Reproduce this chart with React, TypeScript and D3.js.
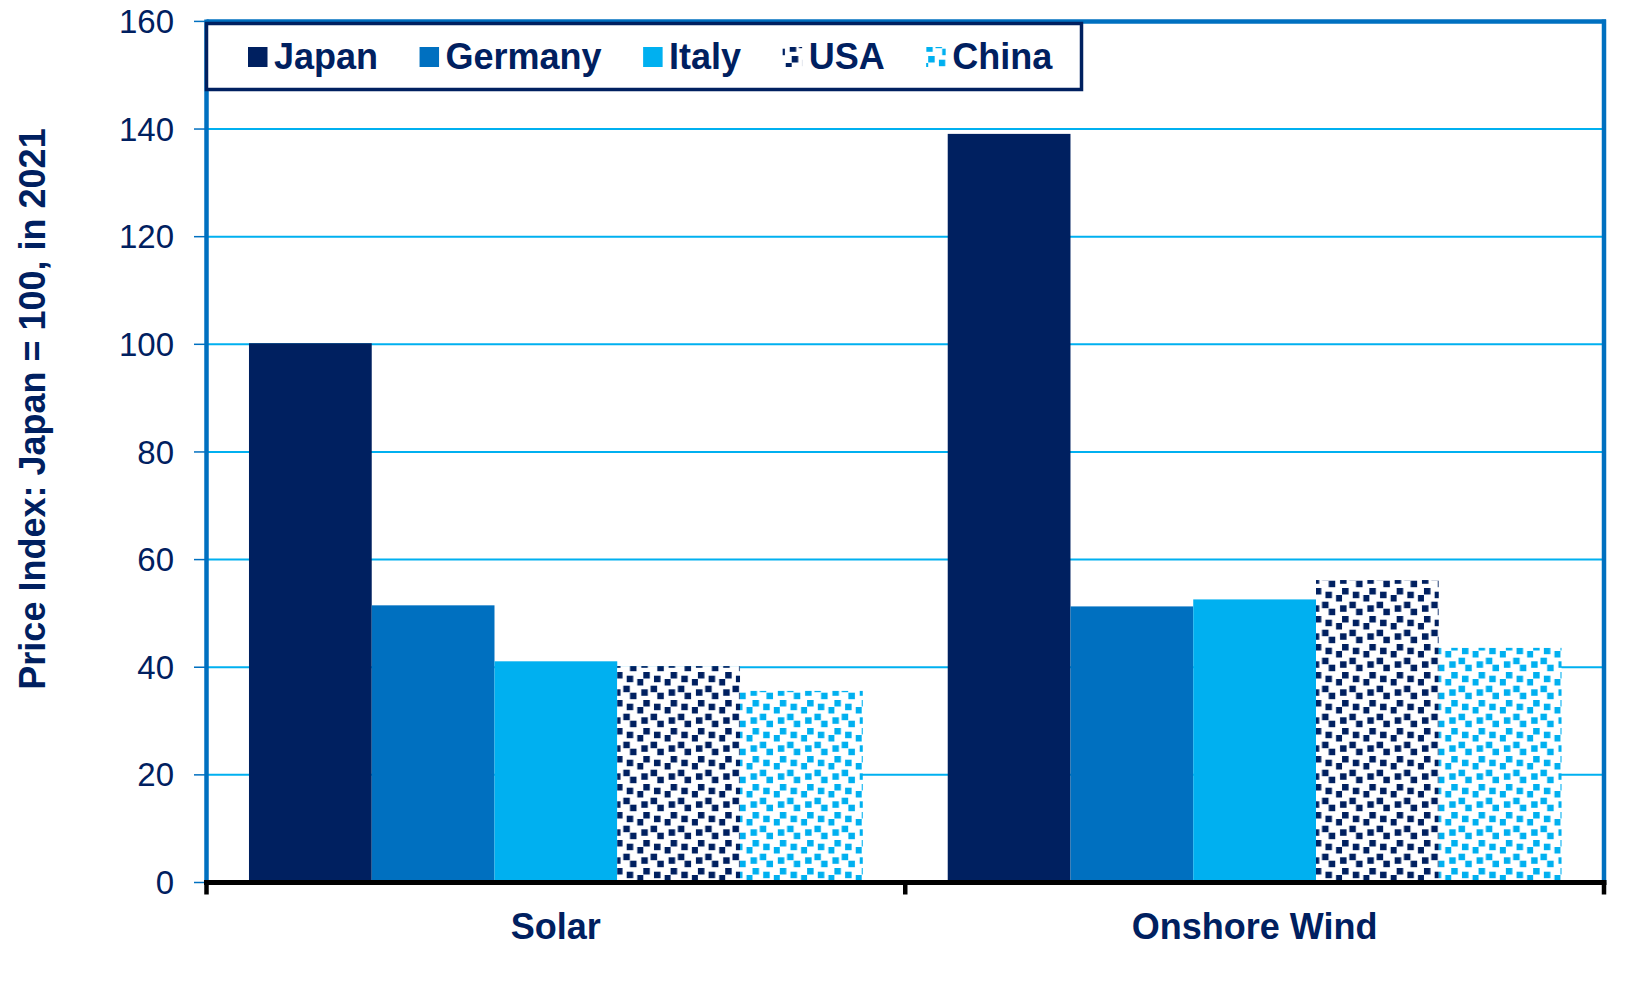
import { useMemo } from 'react';
import * as d3 from 'd3';

// values
const categories = ['Solar', 'Onshore Wind'];
const seriesNames = ['Japan', 'Germany', 'Italy', 'USA', 'China'];
const japan = [100.2, 139.1];
const germany = [51.5, 51.3];
const italy = [41.1, 52.6];
const usa = [40.2, 56.2];
const china = [35.6, 43.6];
const yTicks = [0, 20, 40, 60, 80, 100, 120, 140, 160];
const yTitle = 'Price Index: Japan = 100, in 2021';

const seriesValues = [japan, germany, italy, usa, china];

const NAVY = '#002060';
const BLUE = '#0070C0';
const SKY = '#00B0F0';
const FONT = '"Liberation Sans", Arial, sans-serif';

const fills = [NAVY, BLUE, SKY, 'url(#pat-usa)', 'url(#pat-china)'];

// confetti-like tile (offsets within one pattern cell)
const tileSquares: [number, number][] = [
  [0, 0],
  [10.7, 3.7],
  [21.3, 7],
  [7.3, 13.7],
  [-2, 17.3],
  [25.3, 17.3],
  [14, 20.7],
];

function measure(text: string, font: string) {
  const c = document.createElement('canvas').getContext('2d');
  if (!c) return text.length * 18;
  c.font = font;
  return c.measureText(text).width;
}

export default function App() {
  const width = 1650;
  const height = 990;
  const left = 206.5;
  const right = 1604;
  const top = 21.4;
  const bottom = 882.5;

  const x0 = d3.scaleBand<string>().domain(categories).range([left, right]).padding(0);
  const x1 = d3
    .scaleBand<string>()
    .domain(seriesNames)
    .range([0, x0.bandwidth()])
    .paddingInner(0)
    .paddingOuter(0.346);
  const y = d3.scaleLinear().domain([0, 160]).range([bottom, top]);

  const legend = useMemo(() => {
    const font = `bold 36px ${FONT}`;
    let cx = 248;
    return seriesNames.map((name, i) => {
      const item = { name, fill: fills[i], sx: cx, tx: cx + 26 };
      cx = item.tx + measure(name, font) + 41.5;
      return item;
    });
  }, []);

  const patterns = [
    { id: 'pat-usa', color: NAVY },
    { id: 'pat-china', color: SKY },
  ];

  return (
    <svg
      width={width}
      height={height}
      style={{ position: 'absolute', left: 0, top: 0, background: '#fff' }}
      fontFamily={FONT}
    >
      <defs>
        {patterns.map((p) => (
          <pattern key={p.id} id={p.id} patternUnits="userSpaceOnUse" width={27.3} height={28}>
            <rect width={27.3} height={28} fill="#fff" />
            {tileSquares.map(([sx, sy], k) => (
              <rect key={k} x={sx} y={sy} width={6.5} height={6.5} fill={p.color} />
            ))}
          </pattern>
        ))}
      </defs>

      {/* gridlines */}
      {yTicks
        .filter((v) => v > 0 && v < 160)
        .map((v) => (
          <line key={v} x1={left} x2={right} y1={y(v)} y2={y(v)} stroke={SKY} strokeWidth={2} />
        ))}

      {/* bars */}
      {categories.map((cat, ci) => (
        <g key={cat} transform={`translate(${x0(cat)},0)`}>
          {seriesNames.map((s, si) => (
            <rect
              key={s}
              x={x1(s)}
              y={y(seriesValues[si][ci])}
              width={x1.bandwidth()}
              height={y(0) - y(seriesValues[si][ci])}
              fill={fills[si]}
            />
          ))}
        </g>
      ))}

      {/* frame */}
      <line x1={left} x2={right + 2} y1={top} y2={top} stroke={BLUE} strokeWidth={4.5} />
      <line x1={right} x2={right} y1={top - 2} y2={bottom} stroke={BLUE} strokeWidth={4.5} />
      <line x1={left} x2={left} y1={top - 2} y2={bottom} stroke={BLUE} strokeWidth={4.5} />

      {/* y ticks + labels */}
      {yTicks.map((v) => (
        <g key={`yt-${v}`}>
          <line x1={194} x2={left} y1={y(v)} y2={y(v)} stroke={BLUE} strokeWidth={1.5} />
          <text
            x={174}
            y={y(v)}
            dy="0.35em"
            textAnchor="end"
            fontSize={33}
            fill={NAVY}
          >
            {v}
          </text>
        </g>
      ))}

      {/* x axis */}
      <line x1={left - 2.5} x2={right + 2.5} y1={bottom} y2={bottom} stroke="#000" strokeWidth={5} />
      {[...categories.map((c) => x0(c) as number), right].map((xv, i) => (
        <line key={`xt-${i}`} x1={xv} x2={xv} y1={bottom} y2={bottom + 12} stroke="#000" strokeWidth={4.5} />
      ))}
      {categories.map((cat) => (
        <text
          key={`xl-${cat}`}
          x={(x0(cat) as number) + x0.bandwidth() / 2}
          y={939}
          textAnchor="middle"
          fontSize={36}
          fontWeight="bold"
          fill={NAVY}
        >
          {cat}
        </text>
      ))}

      {/* y title */}
      <text
        transform={`translate(45, 409) rotate(-90)`}
        textAnchor="middle"
        fontSize={36}
        fontWeight="bold"
        fill={NAVY}
      >
        {yTitle}
      </text>

      {/* legend */}
      <rect x={206.5} y={23.5} width={875} height={66} fill="#fff" stroke={NAVY} strokeWidth={3.5} />
      {legend.map((it) => (
        <g key={it.name}>
          <rect x={it.sx} y={47} width={19.5} height={20} fill={it.fill} />
          <text x={it.tx} y={69} fontSize={36} fontWeight="bold" fill={NAVY}>
            {it.name}
          </text>
        </g>
      ))}
    </svg>
  );
}
